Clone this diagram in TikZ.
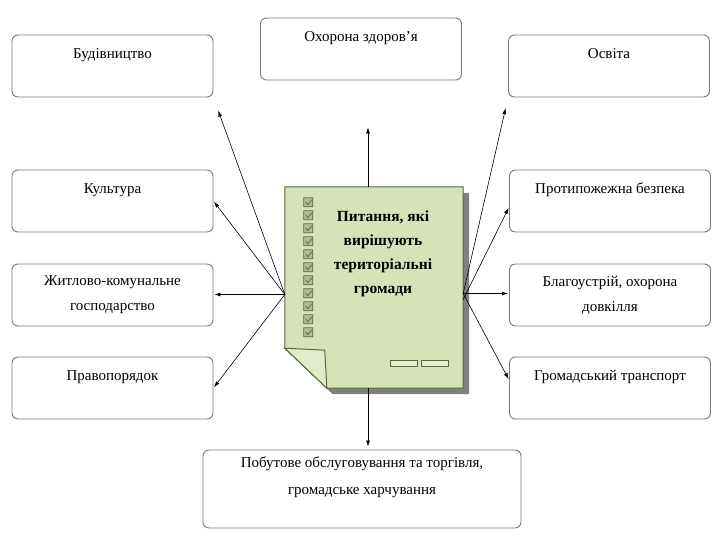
\documentclass[tikz,border=0pt]{standalone}
\usepackage{fontspec}
\setmainfont{Liberation Serif}
\usetikzlibrary{arrows.meta}
\definecolor{notegreen}{RGB}{214,227,184}
\definecolor{noteline}{RGB}{88,104,60}
\definecolor{foldgreen}{RGB}{226,236,204}
\definecolor{boxline}{RGB}{120,120,120}
\tikzset{
  topic/.style={draw=boxline, line width=0.9pt, rounded corners=6pt, fill=white,
    minimum width=201pt, minimum height=62pt, align=center, inner sep=2pt,
    font=\fontsize{15}{25}\selectfont},
  link/.style={-{Latex[length=6pt,width=4pt]}, line width=0.6pt},
}
\begin{document}
\begin{tikzpicture}[x=1pt,y=-1pt]
\useasboundingbox (0,0) rectangle (720,540);
% boxes
\node[topic] (bud) at (112.5,66) {Будівництво\\\mbox{}};
\node[topic] (ohor) at (361,49) {Охорона здоров'я\\\mbox{}};
\node[topic] (osv) at (609,66) {Освіта\\\mbox{}};
\node[topic] (kult) at (112.5,201) {Культура\\\mbox{}};
\node[topic] (zhyt) at (112.5,295) {Житлово-комунальне\\господарство};
\node[topic] (prav) at (112.5,388) {Правопорядок\\\mbox{}};
\node[topic] (prot) at (610,201) {Протипожежна безпека\\\mbox{}};
\node[topic] (blag) at (610,295) {Благоустрій, охорона\\довкілля};
\node[topic] (trans) at (610,388) {Громадський транспорт\\\mbox{}};
\node[topic, minimum width=318pt, minimum height=78pt, font=\fontsize{15}{27}\selectfont] (pobut) at (362,489) {Побутове обслуговування та торгівля,\\громадське харчування\\\mbox{}};

% the note in the middle
\node[minimum width=178pt, minimum height=201pt, inner sep=0pt] (note) at (374,287.5) {};
\fill[black!50] ([shift={(6,6)}]note.north west) -- ([shift={(6,6)}]note.north east) -- ([shift={(6,6)}]note.south east)
  -- ([shift={(48,6)}]note.south west) -- ([shift={(6,-34)}]note.south west) -- cycle;
\draw[fill=notegreen, draw=noteline, line width=1pt] (note.north west) -- (note.north east) -- (note.south east)
  -- ([xshift=42]note.south west) -- ([yshift=40]note.south west) -- cycle;
\draw[fill=foldgreen, draw=noteline, line width=1pt] ([yshift=40]note.south west) -- ([shift={(40,-38)}]note.south west) -- ([xshift=42]note.south west) -- cycle;
\foreach \i in {0,...,10}
  \draw[fill=notegreen!70!noteline, draw=noteline, line width=0.7pt]
    ([shift={(19,11+13*\i)}]note.north west) rectangle +(9,9)
    ([shift={(21,15+13*\i)}]note.north west) -- +(2,3) -- +(6,-2);
\node[font=\fontsize{15.5}{24}\selectfont\bfseries, align=center] (title) at (383,254)
  {Питання, які\\вирішують\\територіальні\\громади};
\draw[fill=notegreen!60!white, draw=noteline, line width=0.8pt] (390,360) rectangle (417,366) (421,360) rectangle (448,366);

% connectors
\coordinate (hubL) at ([yshift=-7pt]note.west);
\coordinate (hubR) at ([yshift=-6pt]note.east);
\coordinate (hubT) at ([xshift=-6pt]note.north);
\coordinate (hubB) at ([xshift=-6pt]note.south);
\draw[link, shorten >=47pt] (hubT) -- (hubT |- ohor.south);
\draw[link, shorten >=3pt] (hubB) -- (hubB |- pobut.north);
\draw[link, shorten >=14pt] (hubL) -- (bud.south east);
\draw[link, shorten >=1pt] (hubL) -- (kult.east);
\draw[link, shorten >=1pt] (hubL) -- (hubL -| zhyt.east);
\draw[link, shorten >=1pt] (hubL) -- (prav.east);
\draw[link, shorten >=11pt] (hubR) -- (osv.south west);
\draw[link, shorten >=1pt] ([yshift=-6pt]hubR) -- ([yshift=-6pt]prot.west);
\draw[link, shorten >=1pt] (hubR) -- (hubR -| blag.west);
\draw[link, shorten >=1pt] (hubR) -- ([yshift=8pt]trans.west);
\end{tikzpicture}
\end{document}
